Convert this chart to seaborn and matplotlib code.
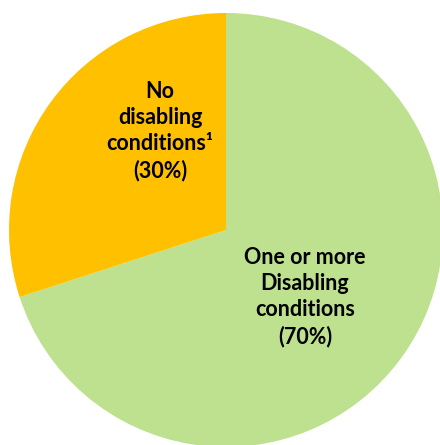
import matplotlib
matplotlib.use("Agg")
import matplotlib.pyplot as plt
import seaborn as sns

categories = ["One or more\nDisabling\nconditions", "No\ndisabling\nconditions\u00b9"]
shares = [70, 30]
colors = ["#BDE18E", "#FFC000"]

sns.set_theme(style="white")
plt.rcParams['font.family'] = ['Lato', 'DejaVu Sans']

W, H = 440, 445
cx, cy, R = 226, 230, 217
fig = plt.figure(figsize=(W / 100, H / 100), dpi=100)
ax = fig.add_axes([0, 0, 1, 1])
ax.pie(shares, colors=colors, startangle=90, counterclock=False,
       radius=1.0, center=(0, 0), wedgeprops=dict(linewidth=0))
ax.set_aspect('auto')
ax.set_xlim(-cx / R, (W - cx) / R)
ax.set_ylim(-(H - cy) / R, cy / R)
ax.axis('off')

label_pos = [((305 - cx) / R, (cy - 297) / R), ((160 - cx) / R, (cy - 131) / R)]
for cat, val, (x, y) in zip(categories, shares, label_pos):
    ax.text(x, y, f"{cat}\n({val}%)", ha='center', va='center',
            fontsize=15.5, fontweight='bold', color='black', linespacing=1.3)

fig.savefig("out.png", dpi=100, facecolor='white')
